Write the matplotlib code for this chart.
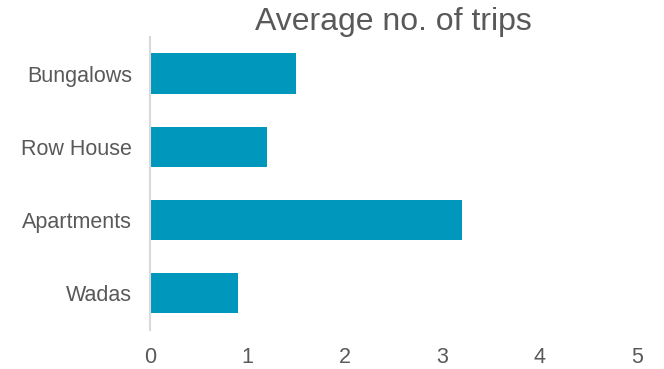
import matplotlib
matplotlib.use('Agg')
import matplotlib.pyplot as plt

# data
categories = ["Bungalows", "Row House", "Apartments", "Wadas"]
avg_trips = [1.5, 1.2, 3.2, 0.9]
x_ticks = [0, 1, 2, 3, 4, 5]

plt.rcParams['font.family'] = ['Liberation Sans', 'DejaVu Sans']

fig = plt.figure(figsize=(6.64, 3.69), dpi=100)
ax = fig.add_axes([0.226, 0.106, 0.733, 0.794])

ypos = list(range(len(categories)))
ax.barh(ypos, avg_trips, height=0.55, color='#0097BD')
ax.set_yticks(ypos)
ax.set_yticklabels(categories)
ax.set_ylim(len(categories) - 0.5, -0.5)
ax.set_xlim(0, 5)
ax.set_xticks(x_ticks)

for s in ['top', 'right', 'bottom']:
    ax.spines[s].set_visible(False)
ax.spines['left'].set_color('#d9d9d9')
ax.spines['left'].set_linewidth(1.5)

ax.tick_params(axis='both', length=0, labelsize=15.5, colors='#595959')
ax.tick_params(axis='x', pad=12)
ax.tick_params(axis='y', pad=13)

ax.set_title("Average no. of trips", fontsize=23, color='#595959', pad=3)

fig.savefig("out.png", dpi=100)
plt.close()
